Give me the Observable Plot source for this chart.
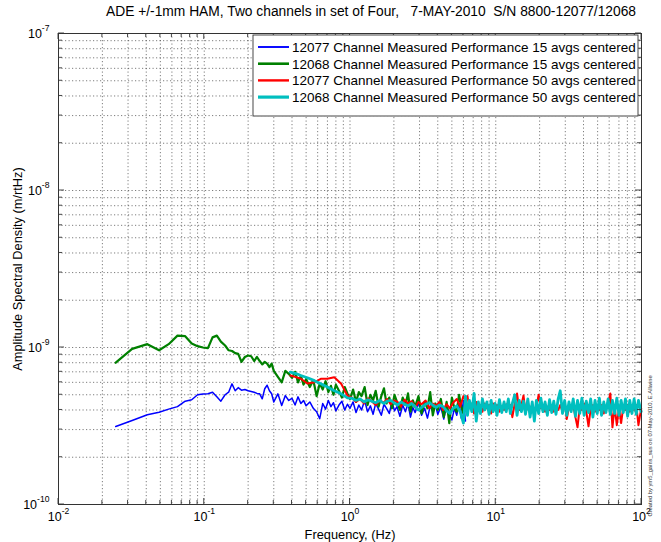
<!DOCTYPE html>
<html><head><meta charset="utf-8">
<script src="https://cdn.jsdelivr.net/npm/d3@7"></script>
<script src="https://cdn.jsdelivr.net/npm/@observablehq/plot@0.6"></script>
<style>
html,body{margin:0;padding:0;background:#fff;}
#chart svg{display:block;}
</style></head><body><div id="chart"></div>
<script>
const titleText = "ADE +/-1mm HAM, Two channels in set of Four,   7-MAY-2010  S/N 8800-12077/12068";
const xLabel = "Frequency, (Hz)";
const yLabel = "Amplitude Spectral Density (m/rtHz)";
const creditText = "Created by ym5_gains_sus on 07-May-2010, E.Allwine";
const seriesNames = [
  "12077 Channel Measured Performance 15 avgs centered",
  "12068 Channel Measured Performance 15 avgs centered",
  "12077 Channel Measured Performance 50 avgs centered",
  "12068 Channel Measured Performance 50 avgs centered"
];
const seriesColors = ["#0000ff", "#008000", "#ff0000", "#00bfbf"];
const seriesWidths = [1.5, 2.2, 2, 2.8];
const xDecades = [1e-2, 1e-1, 1, 10, 100];
const yDecades = [1e-10, 1e-9, 1e-8, 1e-7];
const mantissas = [1, 2, 3, 4, 5, 6, 7, 8, 9];
const UNIT = 1e-10; // ASD values below are in units of 1e-10 m/rtHz

// 15-average spectra (Hz)
const freq15 = [0.0247,0.032,0.0407,0.049,0.057,0.0655,0.074,0.082,0.090,0.098,
  0.106,0.114,0.122,0.130,0.139,0.147,0.155,0.163,0.171,0.180,
  0.19,0.20,0.21,0.22,0.23,0.24,0.25,0.26,0.27,0.28,0.29,0.30,
  0.32,0.34,0.36,0.38,0.40,0.42,0.44,0.46,0.48,0.50,
  0.53,0.56,0.59,0.62,0.65,0.68,0.71,0.74,0.77,0.80,0.84,0.88,0.92,0.96,
  1.0,1.05,1.1,1.15,1.2,1.26,1.32,1.38,1.44,1.5,1.57,1.64,1.71,1.78,1.86,1.94,
  2.02,2.1,2.2,2.3,2.4,2.5,2.6,2.7,2.8,2.95,3.1,3.25,3.4,3.55,3.7,3.85,
  4.0,4.2,4.4,4.6,4.8,5.0,5.2,5.4,5.6,5.8,6.0,6.2];
const asd12077_15 = [3.14,3.43,3.73,3.87,4.05,4.2,4.55,4.65,5.0,5.05,
  5.07,5.19,4.85,4.55,5.0,5.19,5.87,5.3,5.55,5.35,
  5.4,5.3,5.25,5.19,5.1,5.07,4.71,5.46,5.75,5.3,5.07,4.5,
  5.07,4.27,4.94,4.6,4.75,4.3,4.85,4.4,4.6,4.25,
  4.5,4.1,3.9,3.52,4.4,4.05,4.6,4.2,4.45,3.95,4.3,4.55,4.0,4.35,
  4.1,4.5,3.85,4.3,4.0,4.6,3.9,4.25,3.75,4.4,4.05,3.7,4.35,4.1,3.8,4.5,
  3.95,4.2,3.65,4.3,3.9,4.4,3.6,4.15,3.85,4.45,3.7,4.1,3.55,4.25,3.9,4.35,
  3.75,4.2,3.5,4.3,3.8,3.45,4.1,3.7,4.4,3.55,4.6,3.4];
const asd12068_15 = [8.0,9.8,10.5,9.6,10.5,11.9,11.8,10.6,10.2,10.0,
  9.9,11.6,11.9,10.9,10.3,9.6,9.5,9.2,9.1,8.1,
  8.7,8.9,8.8,8.2,8.7,8.2,7.8,8.1,7.9,7.5,7.9,7.1,
  6.5,6.0,7.1,6.8,6.4,7.0,6.0,6.6,5.8,6.3,
  5.6,6.2,4.9,5.9,5.4,6.1,5.2,5.7,5.0,5.8,5.3,4.8,5.6,5.1,
  4.7,5.4,4.5,5.2,4.9,5.6,4.3,5.0,4.6,5.3,4.2,4.9,5.5,4.4,4.8,4.1,
  5.0,4.5,4.0,4.8,4.3,5.1,3.9,4.6,4.2,4.9,3.8,4.5,4.1,5.2,3.7,4.4,
  4.0,4.7,3.6,4.5,3.3,4.8,4.1,3.9,5.0,4.2,3.8,4.4];

// 50-average spectra (Hz)
const freq50 = [0.39,0.43,0.46,0.51,0.57,0.63,0.70,0.78,0.87,0.96,
  1.03,1.1,1.17,1.25,1.33,1.41,1.5,1.6,1.7,1.8,1.9,2.0,2.12,2.24,2.37,2.5,2.65,2.8,2.95,3.1,
  3.3,3.5,3.7,3.9,4.1,4.35,4.6,4.85,5.1,5.4,5.7,6.0,
  6.2,6.4,6.6,6.85,7.1,7.35,7.6,7.85,8.1,8.4,
  8.7,9.0,9.3,9.6,9.9,10.2,10.6,11.0,11.4,11.8,
  12.2,12.6,13.0,13.5,14.0,14.5,15.0,15.5,16.0,16.6,
  17.2,17.8,18.4,19.0,19.7,20.4,21.1,21.8,22.6,23.4,
  24.2,25.0,25.9,26.8,27.7,28.7,29.7,30.7,31.8,32.9,
  34.0,35.2,36.4,37.7,39.0,40.4,41.8,43.3,44.8,46.4,
  48.0,49.7,51.4,53.2,55.1,57.0,59.0,61.1,63.2,65.4,
  67.7,70.1,72.5,75.0,77.6,80.3,83.1,86.0,89.0,92.1,
  95.3,99.5];
const asd12077_50 = [6.63,6.45,6.32,5.9,6.0,6.32,6.32,6.47,5.87,4.94,
  4.8,4.5,4.7,4.4,4.75,4.55,4.3,4.6,4.45,4.7,4.35,4.6,4.5,4.2,4.65,4.4,4.55,4.15,4.5,4.35,
  4.6,4.1,4.4,4.25,4.5,4.0,4.35,4.1,4.45,4.7,4.2,4.9,
  4.6,4.9,4.1,4.4,3.8,4.5,4.0,4.3,3.9,4.4,
  4.1,4.3,3.8,4.4,4.0,4.3,3.9,4.2,4.0,4.35,
  4.1,4.3,3.6,4.4,5.1,4.0,4.3,4.95,3.9,4.2,
  4.0,4.35,3.9,4.2,5.0,4.1,4.3,3.9,4.2,4.0,
  4.3,3.9,4.2,4.0,4.3,3.9,4.5,3.5,4.2,4.0,
  4.3,3.6,3.1,4.2,4.0,4.4,3.9,3.15,4.1,4.3,
  3.9,4.2,4.0,4.3,3.8,4.2,4.4,5.1,3.1,4.2,
  3.2,4.1,3.3,4.2,4.0,4.3,3.9,4.2,4.0,4.3,
  3.2,4.1];
const asd12068_50 = [6.96,6.8,6.63,6.42,6.15,5.87,5.6,5.3,5.07,4.78,
  4.75,4.6,4.7,4.5,4.65,4.55,4.45,4.6,4.4,4.55,4.6,4.45,4.3,4.5,4.35,4.25,4.4,4.2,4.0,4.15,
  4.35,4.45,4.3,4.15,4.3,4.2,3.95,3.8,4.1,4.25,3.9,3.3,
  4.9,3.7,4.6,3.9,5.1,3.4,4.5,3.8,4.7,4.0,
  4.5,3.75,4.6,3.9,4.4,3.7,4.65,3.85,4.5,3.9,
  4.7,3.8,4.4,5.0,3.7,4.6,3.9,4.55,3.75,4.7,
  3.6,4.5,3.4,4.6,3.8,4.75,3.9,4.5,3.7,4.65,
  3.85,4.55,3.75,4.7,5.3,3.8,4.6,3.7,4.5,3.9,
  4.7,3.65,4.6,3.8,4.75,3.7,4.55,3.85,4.7,3.6,
  4.6,3.8,4.75,3.7,4.5,3.85,4.7,3.75,4.6,3.8,
  4.75,3.7,4.6,3.85,4.7,3.65,4.6,3.8,4.7,3.75,
  4.6,3.9];

const seriesFreqs = [freq15, freq15, freq50, freq50];
const seriesValues = [asd12077_15, asd12068_15, asd12077_50, asd12068_50];
const seriesData = seriesValues.map((vals, i) => vals.map((v, j) => ({f: seriesFreqs[i][j], v: v * UNIT})));

const gridX = xDecades.slice(0, -1).flatMap(d => mantissas.map(m => d * m)).concat([xDecades[xDecades.length - 1]]);
const gridY = yDecades.slice(0, -1).flatMap(d => mantissas.map(m => d * m)).concat([yDecades[yDecades.length - 1]]);
const expFmt = d => "10^" + Math.round(Math.log10(d));

const font = "'Liberation Sans', Arial, Helvetica, sans-serif";
const gridStyle = {stroke: "#333", strokeOpacity: 0.8, strokeWidth: 0.8, strokeDasharray: "1.2,2.3"};

const chart = Plot.plot({
  width: 661, height: 542,
  marginTop: 33, marginLeft: 58, marginRight: 20, marginBottom: 38,
  style: {fontFamily: font, fontSize: "12.5px", color: "#000", background: "#fff"},
  x: {type: "log", domain: [1e-2, 1e2], ticks: xDecades, tickFormat: expFmt, tickSize: 0, tickPadding: 8,
      label: xLabel, labelAnchor: "center", labelOffset: 34, labelArrow: false},
  y: {type: "log", domain: [1e-10, 1e-7], ticks: yDecades, tickFormat: expFmt, tickSize: 0, tickPadding: 9,
      label: yLabel, labelAnchor: "center", labelOffset: 46, labelArrow: false},
  marks: [
    Plot.ruleX(gridX.filter(v => v > 1e-2 && v < 1e2), {x: d => d, ...gridStyle}),
    Plot.ruleY(gridY.filter(v => v > 1e-10 && v < 1e-7), {y: d => d, ...gridStyle}),
    ...seriesData.map((rows, i) => Plot.line(rows, {x: "f", y: "v", stroke: seriesColors[i], strokeWidth: seriesWidths[i], strokeLinejoin: "round"})),
    Plot.frame({stroke: "#333", strokeWidth: 1}),
    Plot.text([titleText], {text: d => d, frameAnchor: "top", lineAnchor: "top", dx: 21, dy: -27, fontSize: 13.8, fill: "#000", ariaLabel: "title"}),
    Plot.text([creditText], {text: d => d, frameAnchor: "bottom-right", rotate: -90, textAnchor: "start", lineAnchor: "middle", dx: 9, dy: 12, fontSize: 5.8, fill: "#333", ariaLabel: "credit"})
  ]
});

document.getElementById("chart").appendChild(chart);
const svg = d3.select(chart);

// axis labels: no arrows
svg.selectAll('g[aria-label="x-axis label"] text, g[aria-label="y-axis label"] text').each(function(){
  this.textContent = this.textContent.replace(/\s*[←↑→↓]\s*/g, "").trim();
}).attr("font-size", "12.8px");

// whitespace in title
svg.selectAll('g[aria-label="title"] text').style("white-space", "pre")
  .each(function(){ this.setAttributeNS("http://www.w3.org/XML/1998/namespace", "xml:space", "preserve"); });

// superscript exponents on tick labels
svg.selectAll('g[aria-label="x-axis tick label"] text, g[aria-label="y-axis tick label"] text').each(function(){
  const parts = this.textContent.split("^");
  if (parts.length !== 2) return;
  const s = d3.select(this);
  s.text(null);
  s.append("tspan").text(parts[0]);
  s.append("tspan").attr("dy", "-7").attr("font-size", "8.6px").text(parts[1]);
});

// inward ticks on all four sides
const sx = chart.scale("x"), sy = chart.scale("y");
const [x0, x1] = sx.range, [y0, y1] = sy.range; // y0 bottom, y1 top
const tg = svg.append("g").attr("stroke", "#333").attr("stroke-width", 0.9);
gridX.forEach(v => {
  const px = sx.apply(v), len = xDecades.includes(v) ? 6 : 4;
  tg.append("line").attr("x1", px).attr("x2", px).attr("y1", y0).attr("y2", y0 - len);
  tg.append("line").attr("x1", px).attr("x2", px).attr("y1", y1).attr("y2", y1 + len);
});
gridY.forEach(v => {
  const py = sy.apply(v), len = yDecades.includes(v) ? 6 : 4;
  tg.append("line").attr("y1", py).attr("y2", py).attr("x1", x0).attr("x2", x0 + len);
  tg.append("line").attr("y1", py).attr("y2", py).attr("x1", x1).attr("x2", x1 - len);
});

// legend box
const lg = svg.append("g").attr("aria-label", "legend");
lg.append("rect").attr("x", 253).attr("y", 35).attr("width", 385).attr("height", 81)
  .attr("fill", "#fff").attr("stroke", "#333").attr("stroke-width", 0.9);
seriesNames.forEach((name, i) => {
  const cy = 47 + i * 16.7;
  lg.append("line").attr("x1", 258).attr("x2", 289).attr("y1", cy).attr("y2", cy)
    .attr("stroke", seriesColors[i]).attr("stroke-width", seriesWidths[i] + 0.4);
  lg.append("text").attr("x", 292).attr("y", cy).attr("dy", "0.36em").attr("text-anchor", "start")
    .attr("font-family", font).attr("font-size", 13.5).attr("fill", "#000").text(name);
});
</script></body></html>
